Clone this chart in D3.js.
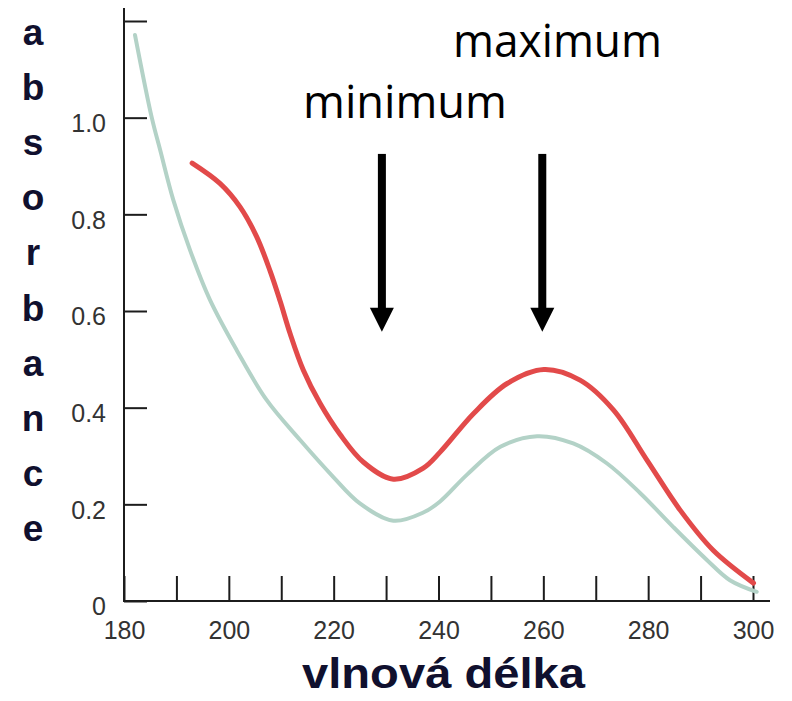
<!DOCTYPE html>
<html>
<head>
<meta charset="utf-8">
<script src="https://cdn.jsdelivr.net/npm/d3@7"></script>
<style>
    body { margin: 0; background: #fff; }
    svg { display: block; }
</style>
</head>
<body>
<svg width="792" height="701"></svg>
<script>
// red curve (upper)
const redWave = [193, 198.3, 202.1, 205.3, 207.9, 209.8, 211.7, 214.2, 217.4, 221.2, 225.7, 231.4, 237.1, 240.3, 246.7, 253.1, 260.1, 267, 273.4, 279.8, 286.1, 292.4, 300.1];
const redAbs = [0.906, 0.864, 0.816, 0.754, 0.682, 0.62, 0.553, 0.478, 0.409, 0.345, 0.287, 0.252, 0.275, 0.308, 0.388, 0.45, 0.479, 0.457, 0.395, 0.291, 0.188, 0.105, 0.037];

// green curve (lower)
const greenWave = [182.1, 185.3, 186.9, 189.4, 192.6, 196.4, 201.5, 207.2, 213.6, 219.9, 225, 231.4, 237.1, 240.3, 245.5, 251.8, 258.8, 265.7, 272.1, 278.5, 284.8, 291.2, 295.6, 300.7];
const greenAbs = [1.171, 1.0, 0.933, 0.83, 0.726, 0.623, 0.519, 0.416, 0.333, 0.257, 0.202, 0.166, 0.183, 0.206, 0.262, 0.319, 0.341, 0.326, 0.285, 0.223, 0.153, 0.085, 0.043, 0.019];

const xTicks = [180, 190, 200, 210, 220, 230, 240, 250, 260, 270, 280, 290, 300];
const yTicks = [0, 0.2, 0.4, 0.6, 0.8, 1.0, 1.2];

// arrows: [wavelength, top absorbance, tip absorbance]
const arrows = [[229.2, 0.925, 0.557], [259.8, 0.925, 0.557]];
const yLetters = "absorbance".split("");

const svg = d3.select("svg"),
    x = d3.scaleLinear().domain([180, 300]).range([124, 753]),
    y = d3.scaleLinear().domain([0, 1.2]).range([601, 21]),
    axisColor = "#1c1c1c",
    navy = "#10102e";

// axis lines
svg.append("line").attr("x1", 124).attr("x2", 124).attr("y1", 8).attr("y2", 601)
    .attr("stroke", axisColor).attr("stroke-width", 2);
svg.append("line").attr("x1", 123).attr("x2", 770).attr("y1", 601).attr("y2", 601)
    .attr("stroke", axisColor).attr("stroke-width", 2);

const yAxis = svg.append("g")
    .attr("transform", "translate(124,0)")
    .call(d3.axisLeft(y).tickValues(yTicks).tickSizeInner(-23).tickSizeOuter(0).tickPadding(18)
        .tickFormat((d) => d === 1.2 ? "" : (d === 0 ? "0" : d3.format(".1f")(d))));
yAxis.select(".domain").remove();
yAxis.selectAll("line").attr("stroke", axisColor).attr("stroke-width", 2);
yAxis.selectAll("text")
    .attr("font-family", "Liberation Sans, Arial, sans-serif")
    .attr("font-size", 25)
    .attr("fill", "#333")
    .attr("dy", "0.55em");

const xAxis = svg.append("g")
    .attr("transform", "translate(0,601)")
    .call(d3.axisBottom(x).tickValues(xTicks).tickSizeInner(-25).tickSizeOuter(0).tickPadding(20)
        .tickFormat((d) => d % 20 === 0 ? d : ""));
xAxis.select(".domain").remove();
xAxis.selectAll("line").attr("stroke", axisColor).attr("stroke-width", 2);
xAxis.selectAll("text")
    .attr("font-family", "Liberation Sans, Arial, sans-serif")
    .attr("font-size", 25)
    .attr("fill", "#333");

// curves
const line = d3.line()
    .x((d) => x(d[0]))
    .y((d) => y(d[1]))
    .curve(d3.curveCatmullRom.alpha(0.5));

svg.append("path")
    .datum(d3.zip(greenWave, greenAbs))
    .attr("fill", "none")
    .attr("stroke", "#b3d2c7")
    .attr("stroke-width", 4)
    .attr("stroke-linecap", "round")
    .attr("d", line);

svg.append("path")
    .datum(d3.zip(redWave, redAbs))
    .attr("fill", "none")
    .attr("stroke", "#e24a4a")
    .attr("stroke-width", 5)
    .attr("stroke-linecap", "round")
    .attr("d", line);

// arrows
for(const [w, top, tip] of arrows) {
    const ax = x(w), headH = 24, headW = 12;
    svg.append("rect")
        .attr("x", ax - 4).attr("y", y(top))
        .attr("width", 8).attr("height", y(tip) - headH - y(top) + 2)
        .attr("fill", "#000");
    svg.append("path")
        .attr("d", `M${ax - headW},${y(tip) - headH}L${ax + headW},${y(tip) - headH}L${ax},${y(tip)}Z`)
        .attr("fill", "#000");
}

// annotations
svg.append("text")
    .attr("x", 453).attr("y", 57)
    .attr("font-family", "Open Sans, Noto Sans, sans-serif")
    .attr("font-size", 46)
    .attr("textLength", 209).attr("lengthAdjust", "spacingAndGlyphs")
    .attr("fill", "#000")
    .text("maximum");
svg.append("text")
    .attr("x", 303).attr("y", 118)
    .attr("font-family", "Open Sans, Noto Sans, sans-serif")
    .attr("font-size", 46)
    .attr("textLength", 204).attr("lengthAdjust", "spacingAndGlyphs")
    .attr("fill", "#000")
    .text("minimum");

// axis titles
svg.append("text")
    .attr("x", 302).attr("y", 688)
    .attr("font-family", "Liberation Sans, Arial, sans-serif")
    .attr("font-weight", "bold")
    .attr("font-size", 42)
    .attr("textLength", 283).attr("lengthAdjust", "spacingAndGlyphs")
    .attr("fill", navy)
    .text("vlnová délka");

svg.append("g").selectAll("text")
    .data(yLetters)
    .join("text")
    .attr("x", 33)
    .attr("y", (d, i) => 45 + i * 55.1)
    .attr("text-anchor", "middle")
    .attr("font-family", "Liberation Sans, Arial, sans-serif")
    .attr("font-weight", "bold")
    .attr("font-size", 37)
    .attr("fill", navy)
    .text((d) => d);
</script>
</body>
</html>
